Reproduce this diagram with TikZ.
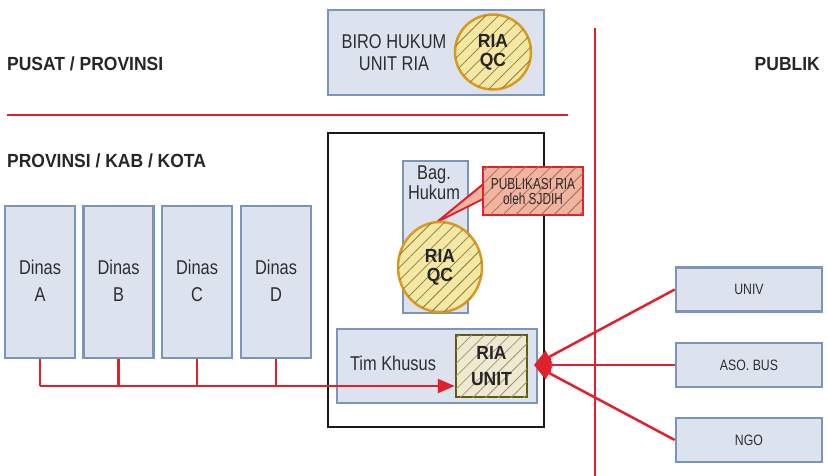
\documentclass[tikz,border=0pt]{standalone}
\usepackage{fontspec}
\setmainfont{Liberation Sans}[FakeStretch=0.82]
\newfontfamily\bcond{Liberation Sans}[FakeStretch=0.92]
\newfontfamily\ncond{Liberation Sans}[FakeStretch=0.74]
\usetikzlibrary{patterns.meta,arrows.meta,shapes.geometric}
\definecolor{boxfill}{HTML}{DDE3EE}
\definecolor{boxline}{HTML}{7A95B8}
\definecolor{txt}{HTML}{2E2E2E}
\definecolor{redl}{HTML}{E0212B}
\definecolor{circfill}{HTML}{F5E8A5}
\definecolor{circline}{HTML}{D99A1E}
\definecolor{hatch}{HTML}{8C7B36}
\definecolor{unitfill}{HTML}{EDE9D2}
\definecolor{unitline}{HTML}{5E5B14}
\definecolor{pubfill}{HTML}{F2B3A1}
\definecolor{pubhatch}{HTML}{A0704A}
\tikzset{
  bluebox/.style={draw=boxline, fill=boxfill, line width=2.5pt, inner sep=0pt},
  lbl/.style={text=txt, align=center, inner sep=0pt, font=\fontsize{20}{27}\selectfont},
  hatchit/.style={postaction={pattern={Lines[angle=45,distance=9pt,line width=0.8pt]}, pattern color=#1}},
  qc/.style={ellipse, draw=circline, fill=circfill, line width=2.5pt, hatchit=hatch, inner sep=0pt,
    text=black!85, align=center, font=\bcond\bfseries\fontsize{19}{19}\selectfont},
  head/.style={text=black!85, font=\bcond\bfseries\fontsize{19}{20}\selectfont, inner sep=0pt},
  redline/.style={draw=redl, line width=2.5pt},
  redarrow/.style={redline, -{Triangle[length=17pt,width=14pt]}},
  pubbox/.style={bluebox, minimum width=146pt, minimum height=44pt, font=\fontsize{15}{15}\selectfont, text=txt}
}
\begin{document}
\begin{tikzpicture}[x=1pt,y=-1pt]
\useasboundingbox (0,0) rectangle (828,476);
% separator lines
\coordinate (hl1) at (7,115);
\coordinate (hl2) at (568,115);
\coordinate (vl1) at (595,28);
\coordinate (vl2) at (595,476);
\draw[redline] (hl1) -- (hl2);
\draw[redline] (vl1) -- (vl2);
% headings
\node[head, anchor=base west] (pusat) at (7,71) {PUSAT / PROVINSI};
\node[head, anchor=base west] (prov) at (7,168) {PROVINSI / KAB / KOTA};
\node[head, anchor=base east] (publik) at (820,71) {PUBLIK};
% top box
\node[bluebox, minimum width=216pt, minimum height=85pt] (biro) at (436,52.5) {};
\node[lbl, font=\fontsize{20}{22}\selectfont] (birotext) at (394,53) {BIRO HUKUM\\UNIT RIA};
\node[qc, minimum width=76pt, minimum height=75pt] (qc1) at (493,52) {RIA\\QC};
% outer black box
\node[draw=black!90, line width=2.5pt, minimum width=216pt, minimum height=294pt, inner sep=0pt] (outer) at (436,280) {};
% Bag. Hukum
\node[bluebox, minimum width=65pt, minimum height=152pt] (bag) at (435.5,237) {};
\node[lbl, font=\fontsize{20}{18}\selectfont] (bagtext) at (434,183) {Bag.\\Hukum};
% callout
\coordinate (c1) at (487,181);
\coordinate (c2) at (487,197);
\coordinate (c3) at (437,222);
\draw[redl, fill=pubfill, line width=2pt, line join=round] (c1) -- (c3) -- (c2) -- cycle;
\node[qc, minimum width=84pt, minimum height=90pt] (qc2) at (440,267) {RIA\\QC};
\node[draw=redl, fill=pubfill, line width=2.5pt, hatchit=pubhatch, minimum width=100pt, minimum height=48pt, inner sep=0pt,
  text=txt, align=center, font=\ncond\fontsize{16}{15}\selectfont] (pub) at (533,191) {PUBLIKASI RIA\\oleh SJDIH};
% Tim Khusus
\node[bluebox, minimum width=200pt, minimum height=74pt] (tim) at (437,366) {};
\node[lbl] (timtext) at (393,363) {Tim Khusus};
\node[draw=unitline, fill=unitfill, line width=2.5pt, hatchit=hatch!80, minimum width=71pt, minimum height=62pt, inner sep=0pt,
  align=center, text=black!85, font=\bcond\bfseries\fontsize{19}{26}\selectfont] (unit) at (491.5,366) {RIA\\UNIT};
% Dinas
\foreach \n/\x/\l in {a/40/A, b/118.5/B, c/197/C, d/276/D}{
  \node[bluebox, minimum width=70pt, minimum height=152pt] (dinas\n) at (\x,282) {};
  \node[lbl] (dinas\n t) at (\x,281) {Dinas\\\l};
}
\coordinate (ja) at (40,386);
\coordinate (jb) at (118.5,386);
\coordinate (jc) at (197,386);
\coordinate (jd) at (276,386);
\draw[redline] (dinasa.south) -- (ja);
\draw[redline] (dinasb.south) -- (jb);
\draw[redline] (dinasc.south) -- (jc);
\draw[redline] (dinasd.south) -- (jd);
\draw[redarrow] (ja) -- (unit.west |- ja);
% public boxes
\node[pubbox] (univ) at (749,289.5) {UNIV};
\node[pubbox] (aso) at (749,365) {ASO. BUS};
\node[pubbox] (ngo) at (749,440) {NGO};
\coordinate (tip) at (534,365);
\draw[redarrow] (univ.west) -- (tip);
\draw[redarrow] (aso.west) -- (tip);
\draw[redarrow] (ngo.west) -- (tip);
\end{tikzpicture}
\end{document}
